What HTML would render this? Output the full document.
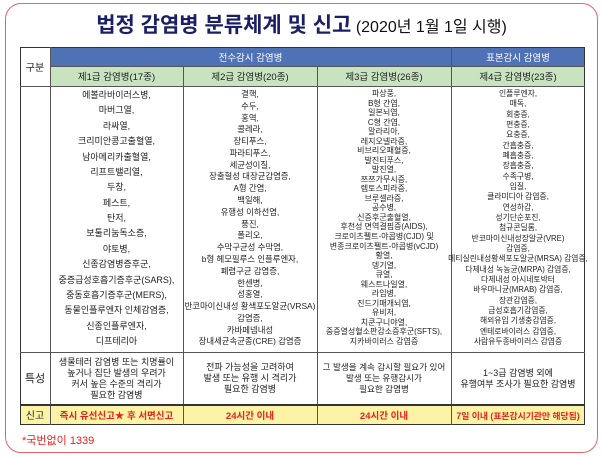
<!DOCTYPE html>
<html><head><meta charset="utf-8"><style>
*{margin:0;padding:0;box-sizing:border-box}
body{width:603px;height:459px;background:#fff;position:relative;overflow:hidden;font-family:"Liberation Sans","Noto Sans CJK KR",sans-serif;color:#222}
.frame{position:absolute;left:5px;top:3px;width:593px;height:450px;border:1.5px solid #e8616b;border-radius:16px}
.title{position:absolute;left:0;width:603px;top:9px;text-align:center;color:#1b1f66;white-space:nowrap}
.title b{font-size:21px;font-weight:700}
.title span{font-size:16px;font-weight:400;color:#111}
.a{position:absolute}
.cell{position:absolute;display:flex;align-items:center;justify-content:center;text-align:center;font-size:9px}
.col{position:absolute;display:flex;flex-direction:column;justify-content:space-between;align-items:center;text-align:center;white-space:nowrap;line-height:1}
.vl{position:absolute;width:1px;background:#555}
.hl{position:absolute;height:1px;background:#555}
.red{color:#e3231c;font-weight:700}
</style></head><body>
<div class="frame"></div>
<div class="title"><b>법정 감염병 분류체계 및 신고</b> <span>(2020년 1월 1일 시행)</span></div>

<div class="a" style="left:50px;top:47px;width:535px;height:19px;background:#4f71b6"></div>
<div class="a" style="left:50px;top:66px;width:535px;height:20px;background:#c8e3c0"></div>
<div class="a" style="left:20px;top:404px;width:565px;height:21px;background:#fdf3a6"></div>

<div class="cell" style="left:50px;top:47px;width:401px;height:19px;color:#fff;font-size:9.5px">전수감시 감염병</div>
<div class="cell" style="left:451px;top:47px;width:134px;height:19px;color:#fff;font-size:9.5px">표본감시 감염병</div>
<div class="cell" style="left:50px;top:66px;width:133px;height:20px;font-size:9.5px">제1급 감염병(17종)</div>
<div class="cell" style="left:183px;top:66px;width:134px;height:20px;font-size:9.5px">제2급 감염병(20종)</div>
<div class="cell" style="left:317px;top:66px;width:134px;height:20px;font-size:9.5px">제3급 감염병(26종)</div>
<div class="cell" style="left:451px;top:66px;width:134px;height:20px;font-size:9.5px">제4급 감염병(23종)</div>
<div class="cell" style="left:20px;top:47px;width:30px;height:39px;font-size:10px">구분</div>
<div class="cell" style="left:20px;top:352px;width:30px;height:52px;font-size:11px">특성</div>
<div class="cell" style="left:20px;top:404px;width:30px;height:21px;font-size:10px">신고</div>

<div class="a" style="left:20px;top:47px;width:565px;height:378px;border:1.5px solid #333"></div>
<div class="vl" style="left:50px;top:47px;height:378px"></div>
<div class="vl" style="left:183px;top:66px;height:359px"></div>
<div class="vl" style="left:317px;top:66px;height:359px"></div>
<div class="vl" style="left:451px;top:47px;height:378px"></div>
<div class="hl" style="left:50px;top:66px;width:535px"></div>
<div class="hl" style="left:20px;top:86px;width:565px"></div>
<div class="hl" style="left:20px;top:352px;width:565px"></div>
<div class="hl" style="left:20px;top:404px;width:565px;background:#333;height:1.5px"></div>

<div class="col" style="left:50px;width:133px;top:91px;height:255px;font-size:9px">
<div>에볼라바이러스병,</div><div>마버그열,</div><div>라싸열,</div><div>크리미안콩고출혈열,</div><div>남아메리카출혈열,</div><div>리프트밸리열,</div><div>두창,</div><div>페스트,</div><div>탄저,</div><div>보툴리눔독소증,</div><div>야토병,</div><div>신종감염병증후군,</div><div>중증급성호흡기증후군(SARS),</div><div>중동호흡기증후군(MERS),</div><div>동물인플루엔자 인체감염증,</div><div>신종인플루엔자,</div><div>디프테리아</div>
</div>
<div class="col" style="left:183px;width:134px;top:90px;height:256px;font-size:8.4px">
<div>결핵,</div><div>수두,</div><div>홍역,</div><div>콜레라,</div><div>장티푸스,</div><div>파라티푸스,</div><div>세균성이질,</div><div>장출혈성 대장균감염증,</div><div>A형 간염,</div><div>백일해,</div><div>유행성 이하선염,</div><div>풍진,</div><div>폴리오,</div><div>수막구균성 수막염,</div><div>b형 헤모필루스 인플루엔자,</div><div>폐렴구균 감염증,</div><div>한센병,</div><div>성홍열,</div><div>반코마이신내성 황색포도알균(VRSA)</div><div>감염증,</div><div>카바페넴내성</div><div>장내세균속균종(CRE) 감염증</div>
</div>
<div class="col" style="left:317px;width:134px;top:90px;height:256px;font-size:8px">
<div>파상풍,</div><div>B형 간염,</div><div>일본뇌염,</div><div>C형 간염,</div><div>말라리아,</div><div>레지오넬라증,</div><div>비브리오패혈증,</div><div>발진티푸스,</div><div>발진열,</div><div>쯔쯔가무시증,</div><div>렙토스피라증,</div><div>브루셀라증,</div><div>공수병,</div><div>신증후군출혈열,</div><div>후천성 면역결핍증(AIDS),</div><div>크로이츠펠트-야콥병(CJD) 및</div><div>변종크로이츠펠트-야콥병(vCJD)</div><div>황열,</div><div>뎅기열,</div><div>큐열,</div><div>웨스트나일열,</div><div>라임병,</div><div>진드기매개뇌염,</div><div>유비저,</div><div>치쿤구니야열,</div><div>중증열성혈소판감소증후군(SFTS),</div><div>지카바이러스 감염증</div>
</div>
<div class="col" style="left:451px;width:134px;top:90px;height:256px;font-size:7.8px">
<div>인플루엔자,</div><div>매독,</div><div>회충증,</div><div>편충증,</div><div>요충증,</div><div>간흡충증,</div><div>폐흡충증,</div><div>장흡충증,</div><div>수족구병,</div><div>임질,</div><div>클라미디아 감염증,</div><div>연성하감,</div><div>성기단순포진,</div><div>첨규콘딜롬,</div><div>반코마이신내성장알균(VRE)</div><div>감염증,</div><div>메티실린내성황색포도알균(MRSA) 감염증,</div><div>다제내성 녹농균(MRPA) 감염증,</div><div>다제내성 아시네토박터</div><div>바우마니균(MRAB) 감염증,</div><div>장관감염증,</div><div>급성호흡기감염증,</div><div>해외유입 기생충감염증,</div><div>엔테로바이러스 감염증,</div><div>사람유두종바이러스 감염증</div>
</div>

<div class="cell" style="left:50px;top:353px;width:133px;height:51px;line-height:11px;font-size:9px">생물테러 감염병 또는 치명률이<br>높거나 집단 발생의 우려가<br>커서 높은 수준의 격리가<br>필요한 감염병</div>
<div class="cell" style="left:183px;top:353px;width:134px;height:51px;line-height:11px;font-size:9px">전파 가능성을 고려하여<br>발생 또는 유행 시 격리가<br>필요한 감염병</div>
<div class="cell" style="left:317px;top:353px;width:134px;height:51px;line-height:11px;font-size:8.6px">그 발생을 계속 감시할 필요가 있어<br>발생 또는 유행감시가<br>필요한 감염병</div>
<div class="cell" style="left:451px;top:353px;width:134px;height:51px;line-height:11px;font-size:9px">1~3급 감염병 외에<br>유행여부 조사가 필요한 감염병</div>

<div class="cell red" style="left:50px;top:405px;width:133px;height:20px;font-size:9.5px">즉시 유선신고★ 후 서면신고</div>
<div class="cell red" style="left:183px;top:405px;width:134px;height:20px;font-size:9.5px">24시간 이내</div>
<div class="cell red" style="left:317px;top:405px;width:134px;height:20px;font-size:9.5px">24시간 이내</div>
<div class="cell red" style="left:451px;top:405px;width:134px;height:20px;font-size:8.8px">7일 이내 (표본감시기관만 해당됨)</div>

<div class="a" style="left:22px;top:432px;font-size:11px;color:#e3231c">*국번없이 1339</div>
</body></html>
